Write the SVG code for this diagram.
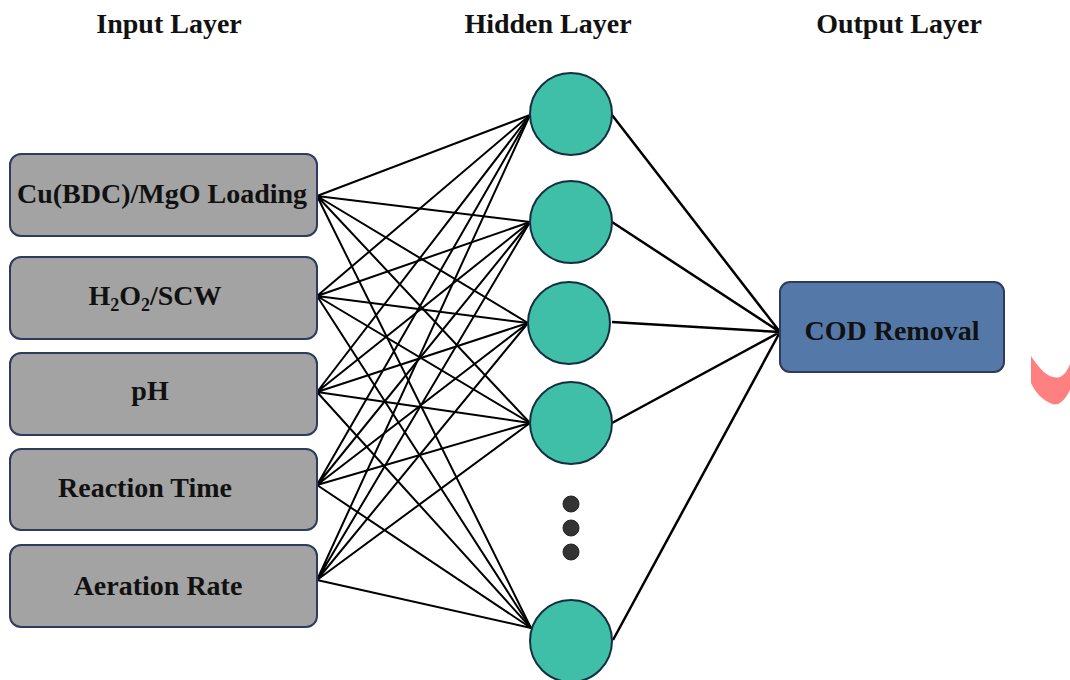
<svg xmlns="http://www.w3.org/2000/svg" width="1070" height="680" viewBox="0 0 1070 680">
<style>
.t{font-family:"Liberation Serif","Times New Roman",serif;font-weight:bold;font-size:28px;fill:#111;text-anchor:middle}
.in{fill:#a3a3a3;stroke:#2e3b5c;stroke-width:2}
.out{fill:#5479a9;stroke:#2e3b5c;stroke-width:2}
.hn{fill:#40bfa8;stroke:#143040;stroke-width:2}
.c{stroke:#000;stroke-width:2;fill:none}
.c2{stroke:#000;stroke-width:2.5;fill:none}
.dot{fill:#333;stroke:#222;stroke-width:1}
</style>
<rect width="1070" height="680" fill="#fff"/>
<g id="titles">
<text class="t" x="169" y="33">Input Layer</text>
<text class="t" x="548" y="33">Hidden Layer</text>
<text class="t" x="899" y="33">Output Layer</text>
</g>
<g id="connectors">
<path class="c" d="M317,196L530,115M317,196L530,222M317,196L528,323M317,196L530,423M317,196L531,628"/>
<path class="c" d="M317,296L530,115M317,296L530,222M317,296L528,323M317,296L530,423M317,296L531,628"/>
<path class="c" d="M317,392L530,115M317,392L530,222M317,392L528,323M317,392L530,423M317,392L531,628"/>
<path class="c" d="M317,485L530,115M317,485L530,222M317,485L528,323M317,485L530,423M317,485L531,628"/>
<path class="c" d="M317,580L530,115M317,580L530,222M317,580L528,323M317,580L530,423M317,580L531,628"/>
<path class="c2" d="M612,115L780,332M612,222L780,332M612,322L780,332M612,423L780,332M613,640L780,332"/>
</g>
<g id="in1"><rect class="in" x="10" y="154" width="307" height="82" rx="11"/><text class="t" x="162" y="203">Cu(BDC)/MgO Loading</text></g>
<g id="in2"><rect class="in" x="10" y="257" width="307" height="82" rx="11"/><text class="t" x="155" y="305">H<tspan font-size="18" dy="6">2</tspan><tspan dy="-6">O</tspan><tspan font-size="18" dy="6">2</tspan><tspan dy="-6">/SCW</tspan></text></g>
<g id="in3"><rect class="in" x="10" y="353" width="307" height="82" rx="11"/><text class="t" x="150" y="400">pH</text></g>
<g id="in4"><rect class="in" x="10" y="449" width="307" height="81" rx="11"/><text class="t" x="145" y="497">Reaction Time</text></g>
<g id="in5"><rect class="in" x="10" y="545" width="307" height="82" rx="11"/><text class="t" x="158" y="595">Aeration Rate</text></g>
<g id="h1"><circle class="hn" cx="571" cy="114" r="41"/></g>
<g id="h2"><circle class="hn" cx="571" cy="222" r="41"/></g>
<g id="h3"><circle class="hn" cx="569" cy="323" r="41"/></g>
<g id="h4"><circle class="hn" cx="571" cy="423" r="41"/></g>
<g id="dots"><circle class="dot" cx="571" cy="504" r="8"/><circle class="dot" cx="571" cy="528" r="8"/><circle class="dot" cx="571" cy="552" r="8"/></g>
<g id="h5"><circle class="hn" cx="571" cy="641" r="41"/></g>
<g id="out"><rect class="out" x="780" y="282" width="224" height="90" rx="10"/><text class="t" x="892" y="340">COD Removal</text></g>
<path d="M1031,356C1040,370 1050,380 1060,377C1065,375 1068,369 1070,364L1070,390C1064,402 1058,406 1052,404C1042,400 1035,392 1031,383Z" fill="#ff8080"/>
</svg>
